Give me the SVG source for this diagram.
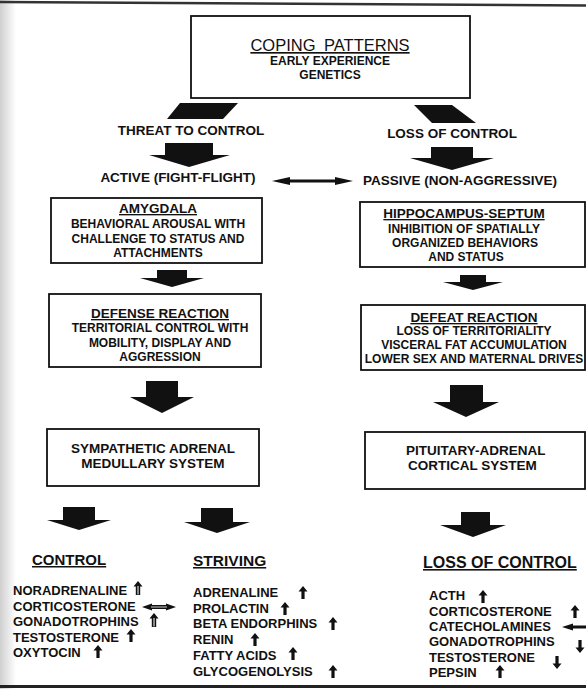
<svg xmlns="http://www.w3.org/2000/svg" xmlns:xlink="http://www.w3.org/1999/xlink" width="586" height="689" viewBox="0 0 586 689">
<style>
.box{fill:#fff;stroke:#111;stroke-width:1.8}
.blk{fill:#111;stroke:none}
text{font-family:"Liberation Sans",Arial,sans-serif;fill:#111}
.hd{font-size:13.5px;font-weight:bold}
.hdu{font-size:13.5px;font-weight:bold;text-decoration:underline}
.bd{font-size:12px;font-weight:bold}
.ls{font-size:13px;font-weight:bold}
.c{text-anchor:middle}
.up{fill:#111}
.inner{stroke:#fff;stroke-width:1}
</style>
<defs>
<linearGradient id="edge" x1="0" y1="0" x2="1" y2="0">
<stop offset="0" stop-color="#cfcfcf"/>
<stop offset="1" stop-color="#ffffff"/>
</linearGradient>
<path id="upA" d="M0,0 L4.5,5.5 L1.6,5.5 L1.6,13 L-1.6,13 L-1.6,5.5 L-4.5,5.5 Z"/>
<path id="dnA" d="M0,0 L4.5,-5.5 L1.6,-5.5 L1.6,-13 L-1.6,-13 L-1.6,-5.5 L-4.5,-5.5 Z"/>
<g id="upB">
<path d="M0,0 L4.5,5.5 L2.2,5.5 L2.2,14 L-2.2,14 L-2.2,5.5 L-4.5,5.5 Z" fill="#111"/>
<line class="inner" x1="0" y1="5" x2="0" y2="13.5"/>
</g>
</defs>
<rect width="586" height="689" fill="#fff"/>
<rect x="0" y="0" width="16" height="689" fill="url(#edge)"/>
<line x1="0" y1="2" x2="586" y2="5.5" stroke="#333" stroke-width="2.5"/>
<line x1="0" y1="686.5" x2="586" y2="686.5" stroke="#222" stroke-width="3"/>

<g id="connectors">
<polygon class="blk" points="180,103 238,103 223,119 167,119"/>
<polygon class="blk" points="414,105 452,105 476,123 432,123"/>
<polygon class="blk" points="165,143 213,143 213,155 230,155 189,167 149,155 165,155"/>
<polygon class="blk" points="431,147 473,147 473,158 494,158 452,170 410,158 431,158"/>
<polygon class="blk" points="272,181 290,177 290,179.5 335,179.5 335,177 353,181 335,185 335,182.5 290,182.5 290,185"/>
<polygon class="blk" points="157,270 187,270 187,278 204,278 172,287 140,278 157,278"/>
<polygon class="blk" points="460,275 486,275 486,282 503,282 473,290 443,282 460,282"/>
<polygon class="blk" points="146,381 178,381 178,397 194,397 162,413 130,397 146,397"/>
<polygon class="blk" points="450,385 483,385 483,402 499,402 466,417 433,402 450,402"/>
<polygon class="blk" points="63,507 95,507 95,520 111,520 79,530 47,520 63,520"/>
<polygon class="blk" points="201,508 233,508 233,522 250,522 217,533 184,522 201,522"/>
<polygon class="blk" points="461,512 490,512 490,525 506,525 473,537 440,525 461,525"/>
</g>

<g id="coping">
<rect class="box" x="191" y="16" width="279" height="82"/>
<text x="330" y="51" class="c" style="font-size:16.5px;text-decoration:underline" word-spacing="4">COPING PATTERNS</text>
<text x="330" y="65" class="bd c">EARLY EXPERIENCE</text>
<text x="330" y="79" class="bd c">GENETICS</text>
</g>
<g id="threat"><text x="191" y="135" class="hd c">THREAT TO CONTROL</text></g>
<g id="lossofcontrol"><text x="452" y="138" class="hd c">LOSS OF CONTROL</text></g>
<g id="active"><text x="178" y="182" class="hd c">ACTIVE (FIGHT-FLIGHT)</text></g>
<g id="passive"><text x="460" y="185" class="hd c">PASSIVE (NON-AGGRESSIVE)</text></g>

<g id="amygdala">
<rect class="box" x="51" y="198" width="211" height="65"/>
<text x="158" y="213" class="hdu c">AMYGDALA</text>
<text x="158" y="228" class="bd c">BEHAVIORAL AROUSAL WITH</text>
<text x="158" y="243" class="bd c">CHALLENGE TO STATUS AND</text>
<text x="158" y="257" class="bd c">ATTACHMENTS</text>
</g>
<g id="defense">
<rect class="box" x="49" y="294" width="212" height="73"/>
<text x="160" y="318" class="hdu c">DEFENSE REACTION</text>
<text x="160" y="332" class="bd c">TERRITORIAL CONTROL WITH</text>
<text x="160" y="347" class="bd c">MOBILITY, DISPLAY AND</text>
<text x="160" y="361" class="bd c">AGGRESSION</text>
</g>
<g id="hippocampus">
<rect class="box" x="360" y="202" width="225" height="65"/>
<text x="464" y="218" class="hdu c">HIPPOCAMPUS-SEPTUM</text>
<text x="464" y="233" class="bd c">INHIBITION OF SPATIALLY</text>
<text x="465" y="247" class="bd c">ORGANIZED BEHAVIORS</text>
<text x="466" y="261" class="bd c">AND STATUS</text>
</g>
<g id="defeat">
<rect class="box" x="361" y="305" width="224" height="65"/>
<text x="474" y="322" class="hdu c">DEFEAT REACTION</text>
<text x="474" y="335" class="bd c">LOSS OF TERRITORIALITY</text>
<text x="474" y="349" class="bd c">VISCERAL FAT ACCUMULATION</text>
<text x="474" y="363" class="bd c">LOWER SEX AND MATERNAL DRIVES</text>
</g>
<g id="sympathetic">
<rect class="box" x="47" y="429" width="212" height="57"/>
<text x="153" y="453" class="hd c">SYMPATHETIC ADRENAL</text>
<text x="153" y="468" class="hd c">MEDULLARY SYSTEM</text>
</g>
<g id="pituitary">
<rect class="box" x="365" y="432" width="220" height="57"/>
<text x="406" y="455" class="hd">PITUITARY-ADRENAL</text>
<text x="408" y="470" class="hd">CORTICAL SYSTEM</text>
</g>

<g id="control">
<text x="32" y="565" style="font-size:15px;font-weight:bold;text-decoration:underline">CONTROL</text>
<text x="13" y="595" class="ls">NORADRENALINE</text>
<text x="13" y="611" class="ls">CORTICOSTERONE</text>
<text x="13" y="626" class="ls">GONADOTROPHINS</text>
<text x="13" y="642" class="ls">TESTOSTERONE</text>
<text x="13" y="657" class="ls">OXYTOCIN</text>
<use xlink:href="#upB" x="138" y="581"/>
<polygon class="blk" points="142,607 152,603.5 152,605 166,605 166,603.5 176,607 166,610.5 166,609 152,609 152,610.5"/>
<line x1="151" y1="607" x2="167" y2="607" stroke="#fff" stroke-width="0.8"/>
<use xlink:href="#upB" x="154" y="613"/>
<use xlink:href="#upA" class="up" x="131" y="629"/>
<use xlink:href="#upA" class="up" x="98" y="645"/>
</g>
<g id="striving">
<text x="193" y="566" style="font-size:15.5px;font-weight:bold;text-decoration:underline">STRIVING</text>
<text x="193" y="597" class="ls">ADRENALINE</text>
<text x="193" y="613" class="ls">PROLACTIN</text>
<text x="193" y="628" class="ls">BETA ENDORPHINS</text>
<text x="193" y="644" class="ls">RENIN</text>
<text x="193" y="660" class="ls">FATTY ACIDS</text>
<text x="193" y="676" class="ls">GLYCOGENOLYSIS</text>
<use xlink:href="#upA" class="up" x="303" y="586"/>
<use xlink:href="#upA" class="up" x="285" y="602"/>
<use xlink:href="#upA" class="up" x="333" y="617"/>
<use xlink:href="#upA" class="up" x="255" y="633"/>
<use xlink:href="#upA" class="up" x="293" y="647"/>
<use xlink:href="#upA" class="up" x="333" y="665"/>
</g>
<g id="lossofcontrol-list">
<text x="423" y="568" style="font-size:16px;font-weight:bold;text-decoration:underline">LOSS OF CONTROL</text>
<text x="429" y="600" class="ls">ACTH</text>
<text x="429" y="616" class="ls">CORTICOSTERONE</text>
<text x="429" y="631" class="ls">CATECHOLAMINES</text>
<text x="429" y="646" class="ls">GONADOTROPHINS</text>
<text x="429" y="662" class="ls">TESTOSTERONE</text>
<text x="429" y="677" class="ls">PEPSIN</text>
<use xlink:href="#upA" class="up" x="483" y="590"/>
<use xlink:href="#upA" class="up" x="575" y="605"/>
<polygon class="blk" points="562,627 573,623.5 573,625.5 590,625.5 590,628.5 573,628.5 573,630.5"/>
<use xlink:href="#dnA" class="up" x="580" y="653"/>
<use xlink:href="#dnA" class="up" x="557" y="669"/>
<use xlink:href="#upA" class="up" x="500" y="665"/>
</g>
</svg>
